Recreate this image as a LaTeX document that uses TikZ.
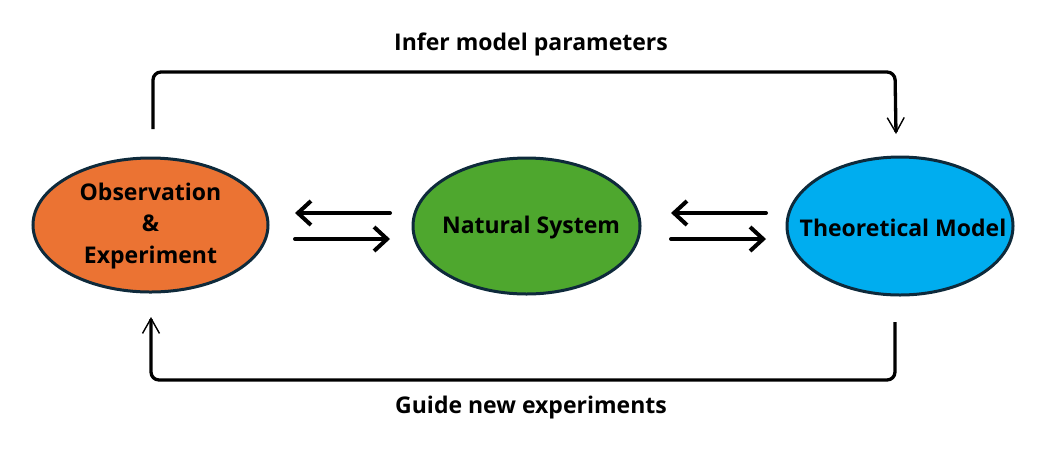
\documentclass[tikz,border=0pt]{standalone}
\usepackage{fontspec}
\setmainfont{Open Sans}
\usetikzlibrary{arrows.meta,shapes.geometric}
\definecolor{borderc}{HTML}{0E2A3B}
\definecolor{orangec}{HTML}{EB7333}
\definecolor{greenc}{HTML}{4EA72E}
\definecolor{bluec}{HTML}{00ADEF}
\tikzset{
  ell/.style={ellipse, draw=borderc, line width=3pt, inner sep=0pt},
  lbl/.style={font=\fontsize{23}{31.5}\selectfont\bfseries, text=black, align=center},
  dbl/.style={line width=4pt, line cap=round, -{Straight Barb[length=13pt,width=24pt,line width=4pt]}},
  conn/.style={line width=3.3pt, rounded corners=8pt, -{Straight Barb[length=15pt,width=17pt,line width=1.4pt]}}
}
\begin{document}
\begin{tikzpicture}[x=1pt,y=-1pt]
\useasboundingbox (0,0) rectangle (1064,451);
\node[ell, fill=orangec, minimum width=235pt, minimum height=134pt] (obs) at (150.5,225) {};
\node[lbl] (obst) at (150.5,226) {Observation\\\&\\Experiment};
\node[ell, fill=greenc, minimum width=227pt, minimum height=136pt] (nat) at (526.5,226) {};
\node[lbl] (natt) at (531,228) {Natural System};
\node[ell, fill=bluec, minimum width=226pt, minimum height=138pt] (th) at (900,226) {};
\node[lbl] (tht) at (903,228) {Theoretical Model};
\coordinate (a1s) at (390,213); \coordinate (a1e) at (295,213);
\coordinate (a2s) at (295,239); \coordinate (a2e) at (390,239);
\coordinate (b1s) at (766,213); \coordinate (b1e) at (671,213);
\coordinate (b2s) at (671,239); \coordinate (b2e) at (766,239);
\draw[dbl] (a1s) -- (a1e);
\draw[dbl] (a2s) -- (a2e);
\draw[dbl] (b1s) -- (b1e);
\draw[dbl] (b2s) -- (b2e);
\coordinate (ts) at (153,129);
\coordinate (te) at (896,134);
\coordinate (bs) at (895,322);
\coordinate (be) at (151,317);
\draw[conn] (ts) -- (153,72) -- (895,72) -- (te);
\draw[conn] (bs) -- (895,380) -- (151,380) -- (be);
\node[lbl] (inf) at (531,44) {Infer model parameters};
\node[lbl] (gui) at (531,408) {Guide new experiments};
\end{tikzpicture}
\end{document}
